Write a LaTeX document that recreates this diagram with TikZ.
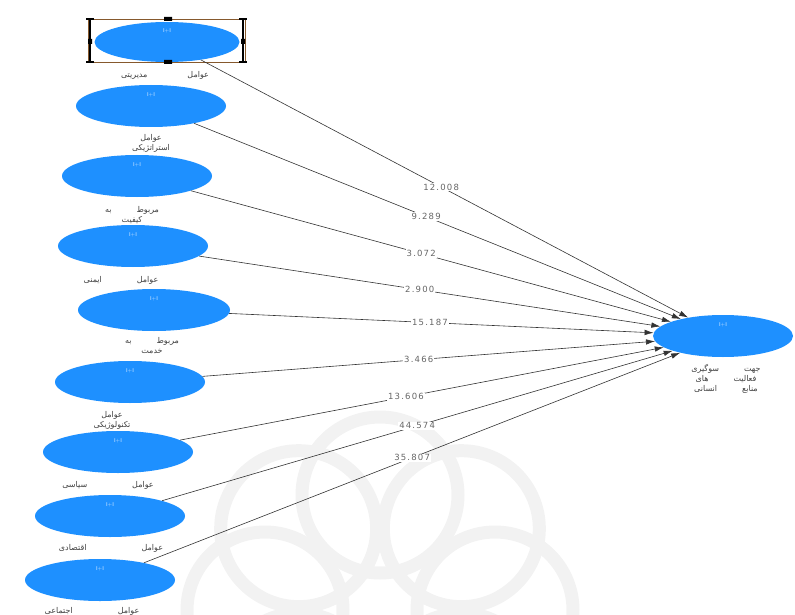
\documentclass[tikz,border=0pt]{standalone}
\usepackage{fontspec}
\newfontfamily\arabicfont[Script=Arabic]{DejaVu Sans}
\newfontfamily\coeffont[LetterSpace=14]{DejaVu Sans}
\TeXXeTstate=1
\usetikzlibrary{arrows.meta,shapes.geometric,calc}
\definecolor{lvblue}{RGB}{30,144,255}
\begin{document}
\begin{tikzpicture}[x=1pt,y=-1pt,
  lv/.style={ellipse, fill=lvblue, inner sep=0pt, minimum width=150pt, minimum height=42pt},
  lab/.style={font=\arabicfont\fontsize{8}{10}\selectfont, align=center, text=black!75},
  pathln/.style={draw=black!80, line width=0.6pt, -{Latex[length=9pt,width=5.5pt]}},
  coef/.style={fill=white, font=\coeffont\fontsize{8.5}{9}\selectfont, inner sep=1pt, text=black!60},
  pm/.style={font=\sffamily\fontsize{5.5}{5.5}\selectfont, text=white!80!lvblue},
  wm/.style={draw=gray!10, line width=13pt}]
\useasboundingbox (0,0) rectangle (795,615);
% watermark
\begin{scope}
\clip (170,380) rectangle (580,615);
\foreach \a in {0,45,...,315}{
  \draw[wm] ($(380,610)+(\a:115)$) circle (78);
}
\end{scope}
% latent variables
\node[lv, minimum width=145pt, minimum height=40pt] (e1) at (167,42) {};
\node[lv] (e2) at (151,106) {};
\node[lv] (e3) at (137,176) {};
\node[lv] (e4) at (133,246) {};
\node[lv, minimum width=152pt] (e5) at (154,310) {};
\node[lv] (e6) at (130,382) {};
\node[lv] (e7) at (118,452) {};
\node[lv] (e8) at (110,516) {};
\node[lv] (e9) at (100,580) {};
\node[lv, minimum width=140pt] (t) at (723,336) {};
% small texts in ellipses
\foreach \n in {e1,e2,e3,e4,e5,e6,e7,e8,e9,t}{
  \node[pm] (\n p) at ([yshift=11pt]\n.center) {I+I};
}
% selection frame around first ellipse
\draw[brown!70!black, line width=0.5pt] (88,19) rectangle (245,62);
\draw[black, line width=1.6pt] (90,19) -- (90,62) (243,19) -- (243,62);
\draw[black, line width=1.2pt] (86,19) -- (94,19) (86,62) -- (94,62) (239,19) -- (247,19) (239,62) -- (247,62);
\fill[black] (164,17) rectangle (172,21) (164,60) rectangle (172,64);
\fill[black] (88,39) rectangle (92,44) (241,39) rectangle (245,44);
% labels
\node[lab] (l1) at (165,75) {\beginR عوامل\hspace{40pt}مدیریتی\endR};
\node[lab] (l2) at (151,143) {\beginR عوامل\endR\\\beginR استراتژیکی\endR};
\node[lab] (l3) at (132,215) {\beginR مربوط\hspace{25pt}به\endR\\\beginR کیفیت\endR};
\node[lab] (l4) at (121,280) {\beginR عوامل\hspace{35pt}ایمنی\endR};
\node[lab] (l5) at (152,346) {\beginR مربوط\hspace{25pt}به\endR\\\beginR خدمت\endR};
\node[lab] (l6) at (112,420) {\beginR عوامل\endR\\\beginR تکنولوژیکی\endR};
\node[lab] (l7) at (108,485) {\beginR عوامل\hspace{45pt}سیاسی\endR};
\node[lab] (l8) at (111,548) {\beginR عوامل\hspace{55pt}اقتصادی\endR};
\node[lab] (l9) at (92,611) {\beginR عوامل\hspace{45pt}اجتماعی\endR};
\node[lab] (lt) at (726,379) {\beginR جهت\hspace{25pt}سوگیری\endR\\\beginR فعالیت\hspace{25pt}های\endR\\\beginR منابع\hspace{25pt}انسانی\endR};
% paths
\foreach \n in {e1,e2,e3,e4,e5,e6,e7,e8,e9}{
  \draw[pathln] (\n) -- (t);
}
% coefficients
\node[coef] (c1) at ($(e1)!0.493!(t)$) {12.008};
\node[coef] (c2) at ($(e2)!0.481!(t)$) {9.289};
\node[coef] (c3) at ($(e3)!0.485!(t)$) {3.072};
\node[coef] (c4) at ($(e4)!0.486!(t)$) {2.900};
\node[coef] (c5) at ($(e5)!0.485!(t)$) {15.187};
\node[coef] (c6) at ($(e6)!0.487!(t)$) {3.466};
\node[coef] (c7) at ($(e7)!0.476!(t)$) {13.606};
\node[coef] (c8) at ($(e8)!0.501!(t)$) {44.574};
\node[coef] (c9) at ($(e9)!0.501!(t)$) {35.807};
\end{tikzpicture}
\end{document}
